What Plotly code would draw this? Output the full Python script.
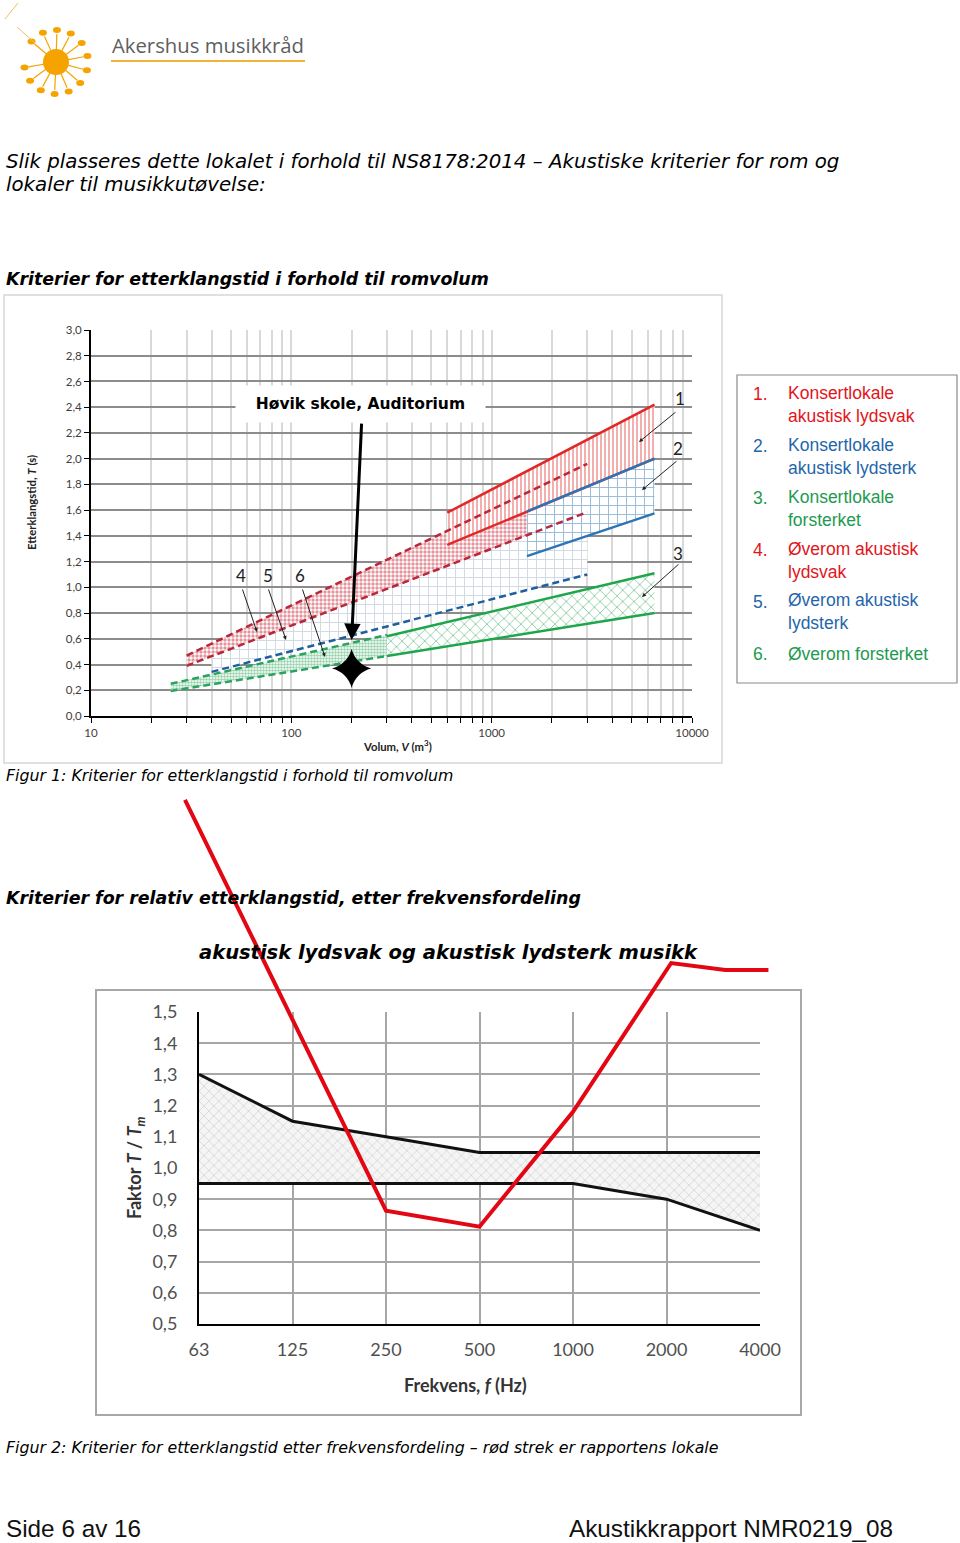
import numpy as np
import plotly.graph_objects as go

W, H = 960, 1543          # page size

# ---------------- Figur 1 data: etterklangstid vs romvolum ----------------
# volume start/end (m3), upper T start/end (s), lower T start/end (s)
z1_V = [600, 6500];  z1_hi = [1.58, 2.42];  z1_lo = [1.33, 2.00]    # 1 Konsertlokale akustisk lydsvak
z2_V = [1500, 6500]; z2_hi = [1.59, 2.00];  z2_lo = [1.243, 1.575]  # 2 Konsertlokale akustisk lydsterk
z3_V = [300, 6500];  z3_hi = [0.62, 1.11];  z3_lo = [0.466, 0.80]   # 3 Konsertlokale forsterket
z4_V = [30, 3000];   z4_hi = [0.47, 1.96];  z4_lo = [0.39, 1.585]   # 4 Øverom akustisk lydsvak
z5_V = [40, 3000];   z5_hi = [0.465, 1.585]; z5_lo = [0.343, 1.10]  # 5 Øverom akustisk lydsterk
z6_V = [25, 300];    z6_hi = [0.25, 0.63];  z6_lo = [0.195, 0.466]  # 6 Øverom forsterket
room_V = 200
room_T = 0.37
arrow_T = 0.59
y1_vals = [0.0, 0.2, 0.4, 0.6, 0.8, 1.0, 1.2, 1.4, 1.6, 1.8, 2.0, 2.2, 2.4, 2.6, 2.8, 3.0]
y1_text = ["0,0", "0,2", "0,4", "0,6", "0,8", "1,0", "1,2", "1,4", "1,6", "1,8",
           "2,0", "2,2", "2,4", "2,6", "2,8", "3,0"]
x1_major = [10, 100, 1000, 10000]
legend_items = ["Konsertlokale<br>akustisk lydsvak", "Konsertlokale<br>akustisk lydsterk",
                "Konsertlokale<br>forsterket", "Øverom akustisk<br>lydsvak",
                "Øverom akustisk<br>lydsterk", "Øverom forsterket"]

# ---------------- Figur 2 data: relativ etterklangstid ----------------
freq_labels = ["63", "125", "250", "500", "1000", "2000", "4000"]
ratio_upper = [1.30, 1.15, 1.10, 1.05, 1.05, 1.05, 1.05]
ratio_lower = [0.95, 0.95, 0.95, 0.95, 0.95, 0.90, 0.80]
red_pos = [-0.15, 2.0, 3.0, 4.0, 5.05, 5.63, 6.09]
red_ratio = [2.18, 0.863, 0.812, 1.18, 1.657, 1.635, 1.635]
y2_vals = [0.5, 0.6, 0.7, 0.8, 0.9, 1.0, 1.1, 1.2, 1.3, 1.4, 1.5]
y2_text = ["0,5", "0,6", "0,7", "0,8", "0,9", "1,0", "1,1", "1,2", "1,3", "1,4", "1,5"]

RED = "#e3141b"; BLUE = "#1f66aa"; GREEN = "#1e9a50"
LEG_COLORS = [RED, BLUE, GREEN, RED, BLUE, GREEN]


def fx(x):
    return x / W


def fy(y):
    return 1 - y / H


# chart pixel boxes (page pixels)
C1 = dict(x0=91, x1=692, y0=330, y1=716)
C2 = dict(x0=199, x1=760, y0=1012, y1=1324)

fig = go.Figure()


def band(V, hi, lo, pattern):
    return go.Scatter(x=[V[0], V[1], V[1], V[0], V[0]], y=[hi[0], hi[1], lo[1], lo[0], hi[0]],
                      mode="lines", line=dict(width=0), fill="toself",
                      fillcolor="rgba(255,255,255,0)", fillpattern=pattern,
                      hoverinfo="skip", showlegend=False, xaxis="x", yaxis="y")


def edge(V, T, color, width=2.5, dash="solid"):
    return go.Scatter(x=V, y=T, mode="lines", line=dict(color=color, width=width, dash=dash),
                      hoverinfo="skip", showlegend=False, xaxis="x", yaxis="y")


fig.add_trace(band(z5_V, z5_hi, z5_lo, dict(shape="+", fgcolor="#9fb2c8", size=9, solidity=0.2, bgcolor="white")))
fig.add_trace(band(z6_V, z6_hi, z6_lo, dict(shape=".", fgcolor="#2fa35c", size=3, solidity=0.55, bgcolor="white")))
fig.add_trace(band(z4_V, z4_hi, z4_lo, dict(shape=".", fgcolor="#c82a3c", size=4, solidity=0.55, bgcolor="white")))
fig.add_trace(band(z3_V, z3_hi, z3_lo, dict(shape="x", fgcolor="#1f9e4e", size=8, solidity=0.22, bgcolor="white")))
fig.add_trace(band(z1_V, z1_hi, z1_lo, dict(shape="|", fgcolor="#e02828", size=4, solidity=0.38, bgcolor="white")))
fig.add_trace(band(z2_V, z2_hi, z2_lo, dict(shape="+", fgcolor="#2e75b6", size=9, solidity=0.2, bgcolor="white")))

DASH = "7px,4px"
fig.add_trace(edge(z5_V, z5_lo, "#1f5f9f", 2.5, DASH))
fig.add_trace(edge(z6_V, z6_hi, "#2ca25f", 2.5, DASH))
fig.add_trace(edge(z6_V, z6_lo, "#2ca25f", 2.5, DASH))
fig.add_trace(edge(z3_V, z3_hi, "#1fa64b", 2.5))
fig.add_trace(edge(z3_V, z3_lo, "#1fa64b", 2.5))
fig.add_trace(edge(z1_V, z1_hi, "#e02828", 2.5))
fig.add_trace(edge(z1_V, z1_lo, "#e02828", 2.5))
fig.add_trace(edge(z2_V, z2_hi, "#2e75b6", 2.5))
fig.add_trace(edge(z2_V, z2_lo, "#2e75b6", 2.5))
fig.add_trace(edge(z4_V, z4_hi, "#b8283a", 2.5, DASH))
fig.add_trace(edge(z4_V, z4_lo, "#b8283a", 2.5, DASH))

# room marker
fig.add_trace(go.Scatter(x=[room_V], y=[room_T], mode="markers",
                         marker=dict(symbol="star-diamond", size=28, color="black"),
                         hoverinfo="skip", showlegend=False, xaxis="x", yaxis="y"))

# ---------------- Figur 2 traces ----------------
idx = list(range(len(freq_labels)))
fig.add_trace(go.Scatter(x=idx + idx[::-1] + [idx[0]],
                         y=ratio_upper + ratio_lower[::-1] + [ratio_upper[0]],
                         mode="lines", line=dict(width=0), fill="toself",
                         fillcolor="rgba(255,255,255,0)",
                         fillpattern=dict(shape="x", fgcolor="#9c9c9c", size=7, solidity=0.16, bgcolor="#f5f5f5"),
                         hoverinfo="skip", showlegend=False, xaxis="x2", yaxis="y2"))
fig.add_trace(go.Scatter(x=idx, y=ratio_upper, mode="lines", line=dict(color="#111111", width=3),
                         hoverinfo="skip", showlegend=False, xaxis="x2", yaxis="y2"))
fig.add_trace(go.Scatter(x=idx, y=ratio_lower, mode="lines", line=dict(color="#111111", width=3),
                         hoverinfo="skip", showlegend=False, xaxis="x2", yaxis="y2"))

# red line of the room (drawn over the page, so on a full-page overlay with the same scale)
step = (C2["x1"] - C2["x0"]) / (len(freq_labels) - 1)
ppu = (C2["y1"] - C2["y0"]) / (y2_vals[-1] - y2_vals[0])
x3_range = [(0 - C2["x0"]) / step, (W - C2["x0"]) / step]
y3_range = [y2_vals[0] - (H - C2["y1"]) / ppu, y2_vals[0] + C2["y1"] / ppu]
fig.add_trace(go.Scatter(x=red_pos, y=red_ratio, mode="lines", line=dict(color="#e30613", width=4),
                         hoverinfo="skip", showlegend=False, xaxis="x3", yaxis="y3"))

x1_ticks = [m * 10 ** e for e in (1, 2, 3) for m in range(1, 10)] + [10000]
x1_text = [str(v) if v in x1_major else "" for v in x1_ticks]

tickfont1 = dict(family="Lato, Open Sans, sans-serif", size=11.5, color="#404040")
tickfont2 = dict(family="Lato, Open Sans, sans-serif", size=18, color="#505050")

fig.update_layout(
    width=W, height=H, margin=dict(l=0, r=0, t=0, b=0, pad=0, autoexpand=False),
    paper_bgcolor="white", plot_bgcolor="rgba(0,0,0,0)", showlegend=False,
    xaxis=dict(type="log", range=[1, 4], domain=[fx(C1["x0"]), fx(C1["x1"])], anchor="y",
               tickvals=x1_ticks, ticktext=x1_text, tickfont=tickfont1, automargin=False,
               ticks="outside", ticklen=5, tickcolor="black", tickwidth=1,
               showline=True, linecolor="black", linewidth=2,
               showgrid=True, gridcolor="#d9d9d9", gridwidth=1.5, zeroline=False, fixedrange=True),
    yaxis=dict(range=[0, 3], domain=[fy(C1["y1"]), fy(C1["y0"])], anchor="x",
               tickvals=y1_vals, ticktext=y1_text, tickfont=tickfont1, automargin=False,
               ticks="outside", ticklen=5, tickcolor="black", tickwidth=1,
               showline=True, linecolor="black", linewidth=2,
               showgrid=True, gridcolor="#8c8c8c", gridwidth=1.5, zeroline=False, fixedrange=True),
    xaxis2=dict(range=[0, len(freq_labels) - 1], domain=[fx(C2["x0"]), fx(C2["x1"])], anchor="y2",
                tickvals=idx, ticktext=freq_labels, tickfont=tickfont2, ticks="", ticklabelstandoff=8,
                automargin=False,
                showline=True, linecolor="black", linewidth=2,
                showgrid=True, gridcolor="#a6a6a6", gridwidth=1.5, zeroline=False, fixedrange=True),
    yaxis2=dict(range=[y2_vals[0], y2_vals[-1]], domain=[fy(C2["y1"]), fy(C2["y0"])], anchor="x2",
                tickvals=y2_vals, ticktext=y2_text, tickfont=tickfont2, ticks="", ticklabelstandoff=16,
                automargin=False,
                showline=True, linecolor="black", linewidth=2,
                showgrid=True, gridcolor="#a6a6a6", gridwidth=1.5, zeroline=False, fixedrange=True),
    xaxis3=dict(range=x3_range, domain=[0, 1], anchor="y3", visible=False, fixedrange=True, automargin=False),
    yaxis3=dict(range=y3_range, domain=[0, 1], anchor="x3", visible=False, fixedrange=True, automargin=False),
)

ann = []
shapes = []


def text(x, y, s, size, family="DejaVu Sans, sans-serif", color="black", xanchor="left", **kw):
    ann.append(dict(x=fx(x), y=fy(y), xref="paper", yref="paper", text=s, showarrow=False,
                    xanchor=xanchor, yanchor="middle", font=dict(family=family, size=size, color=color), **kw))


def arrow(x_tail, y_tail, x_head, y_head, width=1, head=2, size=0.8, color="#222"):
    ann.append(dict(x=fx(x_head), y=fy(y_head), xref="paper", yref="paper", text="",
                    showarrow=True, ax=x_tail - x_head, ay=y_tail - y_head,
                    arrowhead=head, arrowsize=size, arrowwidth=width, arrowcolor=color))


# logo
text(110, 45, "Akershus musikkråd", 20.3, family="Open Sans, sans-serif", color="#5e5e5e")
shapes.append(dict(type="line", xref="paper", yref="paper", x0=fx(111), x1=fx(305), y0=fy(61), y1=fy(61),
                   line=dict(color="#f2b233", width=2)))
cx, cy = 56, 62
ORANGE = "#f5a300"
for a in np.linspace(-140, 170, 13):
    r = np.deg2rad(a)
    shapes.append(dict(type="line", xref="paper", yref="paper",
                       x0=fx(cx + 10 * np.cos(r)), y0=fy(cy + 10 * np.sin(r)),
                       x1=fx(cx + 28 * np.cos(r)), y1=fy(cy + 28 * np.sin(r)),
                       line=dict(color=ORANGE, width=1.2)))
    hx, hy = cx + 32 * np.cos(r), cy + 32 * np.sin(r)
    shapes.append(dict(type="circle", xref="paper", yref="paper", x0=fx(hx - 4), x1=fx(hx + 4),
                       y0=fy(hy + 3), y1=fy(hy - 3), line=dict(width=0), fillcolor=ORANGE))
shapes.append(dict(type="circle", xref="paper", yref="paper", x0=fx(cx - 13), x1=fx(cx + 13),
                   y0=fy(cy + 13), y1=fy(cy - 13), line=dict(width=0), fillcolor=ORANGE))
shapes.append(dict(type="line", xref="paper", yref="paper", x0=fx(5), y0=fy(19), x1=fx(18), y1=fy(3),
                   line=dict(color="#f2c060", width=1)))
shapes.append(dict(type="line", xref="paper", yref="paper", x0=fx(17), y0=fy(27), x1=fx(35), y1=fy(43),
                   line=dict(color="#f2c060", width=1)))

# body texts
text(4, 161, "<i>Slik plasseres dette lokalet i forhold til NS8178:2014 – Akustiske kriterier for rom og</i>", 19.8)
text(4, 185, "<i>lokaler til musikkutøvelse:</i>", 19.8)
text(4, 279, "<b><i>Kriterier for etterklangstid i forhold til romvolum</i></b>", 17.4)
text(4, 775, "<i>Figur 1: Kriterier for etterklangstid i forhold til romvolum</i>", 15.8)
text(4, 898, "<b><i>Kriterier for relativ etterklangstid, etter frekvensfordeling</i></b>", 17.4)
text(448, 952, "<b><i>akustisk lydsvak og akustisk lydsterk musikk</i></b>", 19.5, xanchor="center")
text(4, 1447, "<i>Figur 2: Kriterier for etterklangstid etter frekvensfordeling – rød strek er rapportens lokale</i>", 15.8)
text(4, 1528, "Side 6 av 16", 24.3, family="Liberation Sans, Arial, sans-serif", color="#111")
text(567, 1528, "Akustikkrapport NMR0219_08", 24.3, family="Liberation Sans, Arial, sans-serif", color="#111")

# chart 1 frames and labels
shapes.append(dict(type="rect", xref="paper", yref="paper", x0=fx(4), x1=fx(722), y0=fy(763), y1=fy(295),
                   line=dict(color="#d6d6d6", width=1.5), layer="below"))
text(32, 503, "<b>Etterklangstid, <i>T</i> (s)</b>", 11.3, family="Lato, Open Sans, sans-serif",
     color="#222", xanchor="center", textangle=-90)
text(397, 745, "<b>Volum, <i>V</i> (m<sup>3</sup>)</b>", 11.3, family="Lato, Open Sans, sans-serif",
     color="#222", xanchor="center")
ann.append(dict(x=np.log10(room_V), y=arrow_T, xref="x", yref="y", text="", showarrow=True,
                ax=10, ay=-218, arrowhead=2, arrowsize=1.1, arrowwidth=3, arrowcolor="black"))
text(360, 404, "<b>&nbsp;&nbsp;Høvik skole, Auditorium&nbsp;&nbsp;</b>", 15.5, xanchor="center",
     bgcolor="white", borderpad=9)

numfont = "Lato, Open Sans, sans-serif"
for s, x, y in [("1", 680, 398), ("2", 678, 449), ("3", 678, 553), ("4", 241, 576), ("5", 268, 576), ("6", 300, 576)]:
    text(x, y, s, 17, family=numfont, color="#222", xanchor="center")
arrow(677, 411, 639, 442)
arrow(678, 460, 642, 490)
arrow(680, 563, 642, 597)
arrow(242, 588, 257, 632)
arrow(268, 588, 286, 640)
arrow(302, 588, 325, 657)

# legend box
shapes.append(dict(type="rect", xref="paper", yref="paper", x0=fx(737), x1=fx(957), y0=fy(683), y1=fy(375),
                   line=dict(color="#8a8a8a", width=1.2)))
leg_y = [404, 456, 508, 560, 612, 654]
for i, (lab, col, yy) in enumerate(zip(legend_items, LEG_COLORS, leg_y)):
    one = "<br>" not in lab
    ytop = yy if one else yy - 10
    text(751, ytop, f"{i + 1}.", 17.5, family="Liberation Sans, Arial, sans-serif", color=col)
    ann.append(dict(x=fx(786), y=fy(yy), xref="paper", yref="paper", text=lab, showarrow=False,
                    xanchor="left", yanchor="middle", align="left",
                    font=dict(family="Liberation Sans, Arial, sans-serif", size=17.5, color=col)))

# chart 2 frame and titles
shapes.append(dict(type="rect", xref="paper", yref="paper", x0=fx(96), x1=fx(801), y0=fy(1415), y1=fy(990),
                   line=dict(color="#a8a8a8", width=2), layer="below"))
text(135, 1168, "<b>Faktor <i>T</i> / <i>T<sub>m</sub></i></b>", 18, family="Lato, Open Sans, sans-serif",
     color="#333", xanchor="center", textangle=-90)
text(465, 1385, "<b>Frekvens, <i>f</i> (Hz)</b>", 18, family="Lato, Open Sans, sans-serif",
     color="#333", xanchor="center")

fig.update_layout(annotations=ann, shapes=shapes)
fig.write_html("out.html", config={"displayModeBar": False})
